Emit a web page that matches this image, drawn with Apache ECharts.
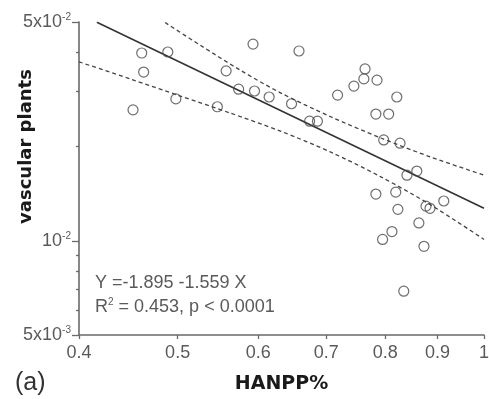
<!DOCTYPE html>
<html>
<head>
<meta charset="utf-8">
<script src="https://cdn.jsdelivr.net/npm/echarts@6/dist/echarts.min.js"></script>
<style>
  html, body {margin: 0; padding: 0; background: #fff;}
  #chart {width: 489px; height: 399px;}
</style>
</head>
<body>
<div id="chart"></div>
<script>
// observed points (HANPP fraction, vascular plant value)
const hanpp = [
  0.461, 0.489, 0.463, 0.498, 0.452, 0.547, 0.558, 0.593, 0.574, 0.595,
  0.615, 0.658, 0.647, 0.674, 0.686, 0.718, 0.764, 0.762, 0.785, 0.745,
  0.821, 0.783, 0.806, 0.797, 0.827, 0.840, 0.859, 0.783, 0.819, 0.913,
  0.823, 0.877, 0.885, 0.863, 0.812, 0.795, 0.873, 0.834
];
const plants = [
  0.0398, 0.0401, 0.0346, 0.0284, 0.0262, 0.0268, 0.0349, 0.0425, 0.0305, 0.0301,
  0.0288, 0.0404, 0.0274, 0.0241, 0.0241, 0.0292, 0.0354, 0.0329, 0.0326, 0.0312,
  0.0288, 0.0254, 0.0254, 0.0210, 0.0205, 0.0162, 0.0167, 0.0141, 0.0143, 0.0134,
  0.0126, 0.0129, 0.0127, 0.0114, 0.0107, 0.0101, 0.0096, 0.0069
];

// regression line and 95% band
const fitX = [0.4165, 1.0];
const fitY = [0.0499, 0.0127];
const upperX = [0.486, 0.526, 0.576, 0.631, 0.707, 0.792, 0.887, 1.0];
const upperY = [0.0498, 0.0422, 0.0351, 0.0297, 0.0249, 0.0213, 0.0185, 0.0162];
const lowerX = [0.4, 0.449, 0.503, 0.563, 0.631, 0.707, 0.792, 0.887, 1.0];
const lowerY = [0.0373, 0.0329, 0.0290, 0.0256, 0.0224, 0.0192, 0.0160, 0.0130, 0.0101];

// tick values and labels
const xTicks = [0.4, 0.5, 0.6, 0.7, 0.8, 0.9, 1];
const xTickLabels = ['0.4', '0.5', '0.6', '0.7', '0.8', '0.9', '1'];
const yTicks = [0.005, 0.01, 0.05];
const yTickBase = ['5x10', '10', '5x10'];
const yTickExp = ['-3', '-2', '-2'];
const yMinorTicks = [0.006, 0.007, 0.008, 0.009, 0.02, 0.03, 0.04];

const zip = (xs, ys) => xs.map((x, i) => [x, ys[i]]);
const nearest = (arr, v) => {
  let best = 0;
  arr.forEach((a, i) => {
    if (Math.abs(Math.log(a / v)) < Math.abs(Math.log(arr[best] / v))) best = i;
  });
  return best;
};

const axisGray = '#6a6a6a';
const textGray = '#5a5a5a';
const font = 'Liberation Sans, Arial, sans-serif';

const chart = echarts.init(document.getElementById('chart'), null, {renderer: 'canvas'});
chart.setOption({
  animation: false,
  backgroundColor: '#fff',
  grid: {left: 79, right: 5, top: 22, bottom: 64, containLabel: false, outerBoundsMode: 'none'},
  xAxis: {
    type: 'log',
    logBase: 10,
    min: 0.4,
    max: 1,
    name: 'HANPP%',
    nameLocation: 'middle',
    nameGap: 40,
    nameMoveOverlap: false,
    nameTextStyle: {fontFamily: 'DejaVu Sans', fontWeight: 'bold', fontSize: 19, color: '#1a1a1a'},
    axisLine: {lineStyle: {color: axisGray, width: 1.6}},
    axisTick: {show: true, customValues: xTicks, length: 4, lineStyle: {color: axisGray, width: 1.3}},
    axisLabel: {
      customValues: xTicks,
      margin: 9,
      fontFamily: font,
      fontSize: 18,
      color: textGray,
      formatter: v => xTickLabels[nearest(xTicks, v)]
    },
    splitLine: {show: false},
    minorTick: {show: false}
  },
  yAxis: [{
    type: 'log',
    logBase: 10,
    min: 0.005,
    max: 0.05,
    position: 'left',
    name: 'vascular plants',
    nameLocation: 'middle',
    nameGap: 44,
    nameMoveOverlap: false,
    nameTextStyle: {fontFamily: 'DejaVu Sans', fontWeight: 'bold', fontSize: 18, color: '#1a1a1a', padding: [0, 0, 0, 64]},
    axisLine: {lineStyle: {color: axisGray, width: 1.6}},
    axisTick: {show: true, customValues: yTicks, length: 7, lineStyle: {color: axisGray, width: 1.3}},
    axisLabel: {
      customValues: yTicks,
      margin: 8,
      color: textGray,
      formatter: v => {
        const i = nearest(yTicks, v);
        return '{a|' + yTickBase[i] + '}{s|' + yTickExp[i] + '}';
      },
      rich: {
        a: {fontFamily: font, fontSize: 18, color: textGray, lineHeight: 20},
        s: {fontFamily: font, fontSize: 10, color: textGray, verticalAlign: 'top', lineHeight: 20}
      }
    },
    splitLine: {show: false}
  }, {
    // minor ticks only
    type: 'log',
    logBase: 10,
    min: 0.005,
    max: 0.05,
    position: 'left',
    axisLine: {show: false},
    axisTick: {show: true, customValues: yMinorTicks, length: 3, lineStyle: {color: axisGray, width: 1.3}},
    axisLabel: {show: false},
    splitLine: {show: false}
  }],
  graphic: [{
    type: 'text',
    left: 95,
    top: 274,
    style: {text: 'Y =-1.895 -1.559 X', font: '18px ' + font, fill: textGray}
  }, {
    type: 'text',
    left: 95,
    top: 297,
    style: {
      text: 'R{s|2} = 0.453, p < 0.0001',
      font: '18px ' + font,
      fill: textGray,
      rich: {s: {fontSize: 10, fontFamily: font, fill: textGray, verticalAlign: 'top', lineHeight: 20}}
    }
  }, {
    type: 'text',
    left: 15,
    top: 371,
    style: {text: '(a)', font: '25px ' + font, fill: '#333'}
  }],
  series: [{
    type: 'line',
    data: zip(fitX, fitY),
    symbol: 'none',
    lineStyle: {color: '#333', width: 1.6},
    z: 2
  }, {
    type: 'line',
    data: zip(upperX, upperY),
    symbol: 'none',
    smooth: 0.3,
    lineStyle: {color: '#444', width: 1.3, type: [4, 3]},
    z: 2
  }, {
    type: 'line',
    data: zip(lowerX, lowerY),
    symbol: 'none',
    smooth: 0.3,
    lineStyle: {color: '#444', width: 1.3, type: [4, 3]},
    z: 2
  }, {
    type: 'scatter',
    data: zip(hanpp, plants),
    symbol: 'circle',
    symbolSize: 10,
    itemStyle: {color: 'rgba(0,0,0,0)', borderColor: '#4a4a4a', borderWidth: 1.2},
    z: 3
  }]
});
</script>
</body>
</html>
